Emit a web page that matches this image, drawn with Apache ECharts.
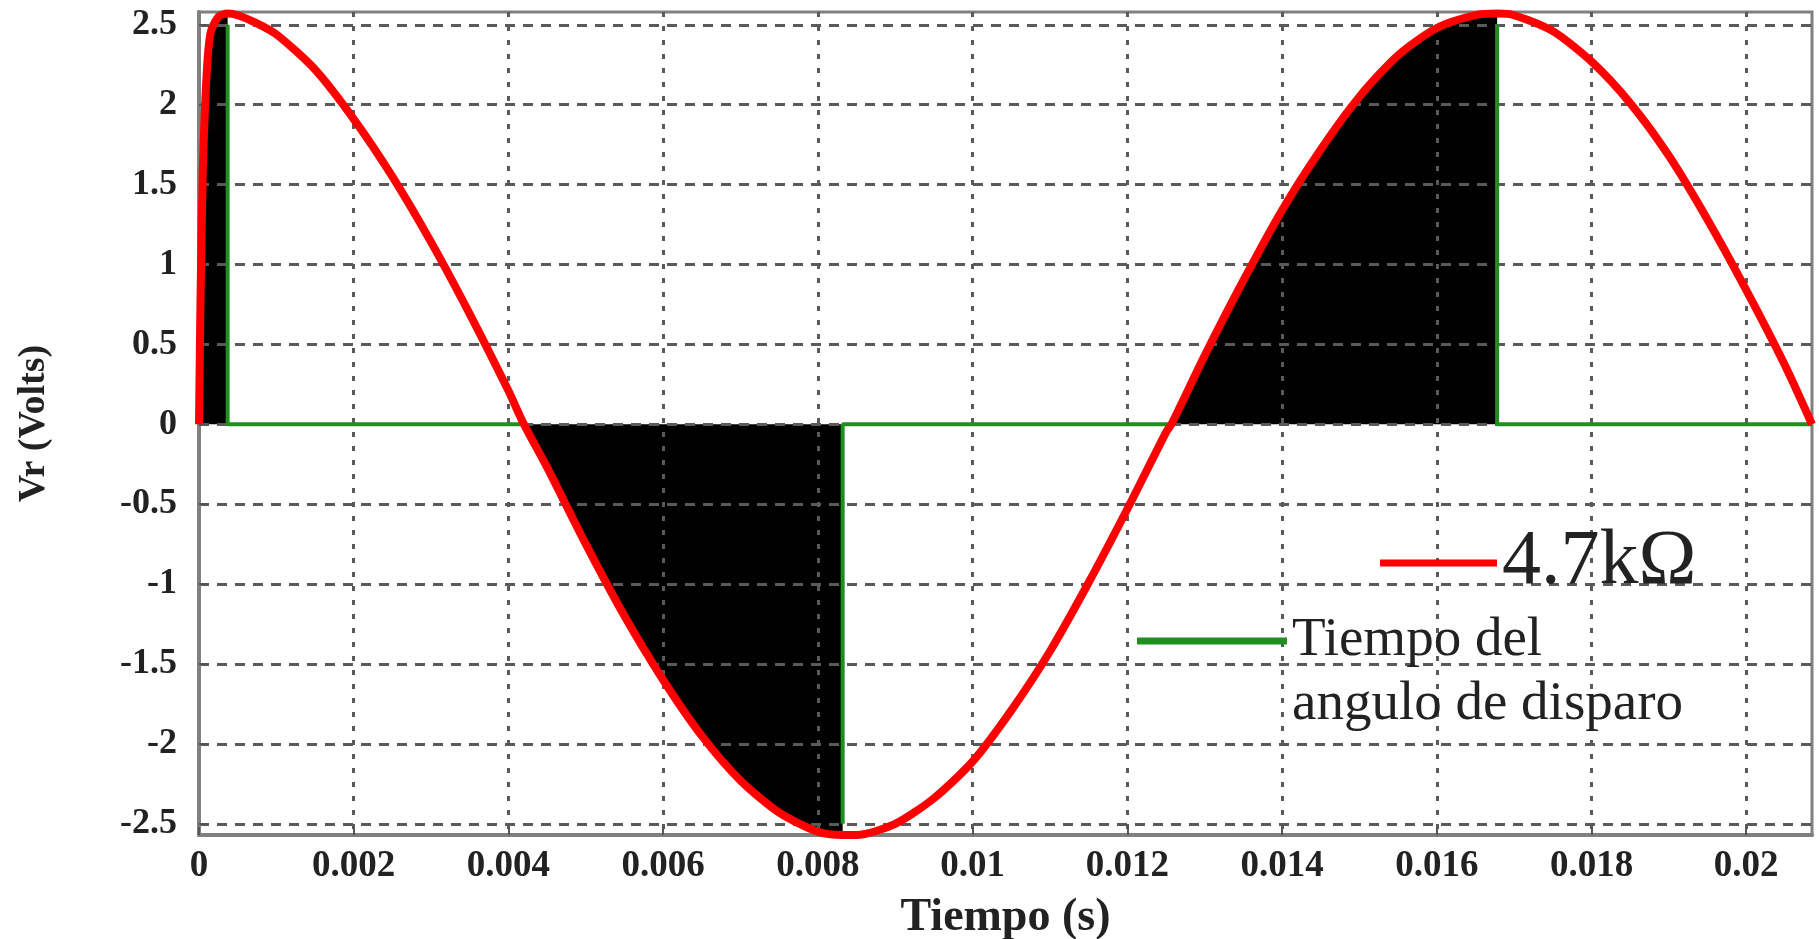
<!DOCTYPE html>
<html><head><meta charset="utf-8">
<script src="https://cdn.jsdelivr.net/npm/echarts@6/dist/echarts.min.js"></script>
<style>html,body{margin:0;padding:0;background:#fff;}#c{width:1819px;height:939px;}</style>
</head><body><div id="c"></div>
<script>
// Tiempo (s) and Vr (Volts)
const tiempo = [0, 0.00002, 0.00005, 0.0001, 0.00015, 0.00025, 0.00037, 0.0005, 0.0007, 0.001, 0.0015,
  0.002, 0.0025, 0.003, 0.0035, 0.004, 0.0042, 0.0045, 0.005, 0.0055, 0.006,
  0.0065, 0.007, 0.0075, 0.008, 0.00832, 0.0085, 0.009, 0.0095, 0.01, 0.0105,
  0.011, 0.0115, 0.012, 0.0125, 0.01257, 0.013, 0.0135, 0.014, 0.0145, 0.015,
  0.0155, 0.016, 0.0165, 0.01678, 0.017, 0.0175, 0.018, 0.0185, 0.019, 0.0195,
  0.02, 0.0205, 0.02085];
const vr = [0, 0.8, 1.6, 2.2, 2.45, 2.55, 2.57, 2.56, 2.52, 2.44, 2.22,
  1.91, 1.55, 1.14, 0.69, 0.21, 0, -0.27, -0.75, -1.2, -1.6,
  -1.95, -2.23, -2.43, -2.55, -2.57, -2.57, -2.5, -2.34, -2.11, -1.79,
  -1.42, -0.99, -0.53, -0.05, 0, 0.43, 0.9, 1.34, 1.72, 2.05,
  2.31, 2.48, 2.56, 2.57, 2.56, 2.46, 2.27, 2.01, 1.68, 1.28,
  0.84, 0.37, 0];
// conduction intervals (start) and firing instants (end) with marker level
const conduccionInicio = [0, 0.0042, 0.01257];
const disparo = [0.00037, 0.00832, 0.01678];
const disparoNivel = [2.5, -2.5, 2.5];
const tiempoFin = 0.02085;

const xTicks = [0, 0.002, 0.004, 0.006, 0.008, 0.01, 0.012, 0.014, 0.016, 0.018, 0.02];
const xTickLabels = ['0', '0.002', '0.004', '0.006', '0.008', '0.01', '0.012', '0.014', '0.016', '0.018', '0.02'];
const yTicks = [-2.5, -2, -1.5, -1, -0.5, 0, 0.5, 1, 1.5, 2, 2.5];
const yTickLabels = ['-2.5', '-2', '-1.5', '-1', '-0.5', '0', '0.5', '1', '1.5', '2', '2.5'];

const serieRoja = '4.7k\u03A9';
const serieVerde = 'Tiempo del\nangulo de disparo';
const ejeX = 'Tiempo (s)';
const ejeY = 'Vr (Volts)';

const FONT = "'Liberation Serif', 'Times New Roman', serif";

const redData = tiempo.map((t, i) => [t, vr[i]]);
const fillData = tiempo.map((t, i) => {
  let inside = false;
  for (let k = 0; k < disparo.length; k++) {
    if (t >= conduccionInicio[k] - 1e-12 && t <= disparo[k] + 1e-12) inside = true;
  }
  return inside ? [t, vr[i]] : [t, '-'];
});
const greenData = [];
for (let k = 0; k < disparo.length; k++) {
  const next = k + 1 < conduccionInicio.length ? conduccionInicio[k + 1] : tiempoFin;
  greenData.push([disparo[k], disparoNivel[k]], [disparo[k], 0], [next, 0], ['-', '-']);
}

function lab(ticks, labels) {
  return v => {
    const i = ticks.findIndex(t => Math.abs(t - v) < 1e-9);
    return i >= 0 ? labels[i] : '';
  };
}

const chart = echarts.init(document.getElementById('c'));
chart.setOption({
  animation: false,
  backgroundColor: '#fff',
  grid: { left: 199, right: 7, top: 12, bottom: 104, show: true, borderColor: '#808080', borderWidth: 3,
    backgroundColor: 'transparent', outerBoundsMode: 'none', containLabel: false },
  legend: [
    {
      data: [serieRoja], left: 1380, top: 524, padding: 0, icon: 'rect', itemWidth: 117, itemHeight: 7,
      selectedMode: false,
      textStyle: { fontFamily: FONT, fontSize: 78, color: '#222' }
    },
    {
      data: [serieVerde], left: 1137, top: 545, padding: 0, icon: 'rect', itemWidth: 150, itemHeight: 7,
      selectedMode: false,
      formatter: name => ' \n' + name,
      textStyle: { fontFamily: FONT, fontSize: 55, lineHeight: 64, color: '#222' }
    }
  ],
  xAxis: {
    type: 'value', min: 0, max: tiempoFin, z: 3,
    name: ejeX, nameLocation: 'middle', nameGap: 60,
    nameTextStyle: { fontFamily: FONT, fontWeight: 'bold', fontSize: 46, color: '#222' },
    axisLine: { show: true, onZero: false, lineStyle: { color: '#808080', width: 4 } },
    axisTick: { show: true, inside: true, length: 8, customValues: xTicks, lineStyle: { color: '#555', width: 2 } },
    axisLabel: { customValues: xTicks, margin: 13, fontFamily: FONT, fontWeight: 'bold', fontSize: 37, color: '#222', formatter: lab(xTicks, xTickLabels) },
    splitLine: { show: true, lineStyle: { color: '#5a5a5a', width: 3, type: [5, 9] } }
  },
  yAxis: {
    type: 'value', min: -2.57, max: 2.58, z: 3,
    name: ejeY, nameLocation: 'middle', nameGap: 146, nameRotate: 90,
    nameTextStyle: { fontFamily: FONT, fontWeight: 'bold', fontSize: 38, color: '#222' },
    axisLine: { show: true, onZero: false, lineStyle: { color: '#808080', width: 4 } },
    axisTick: { show: true, inside: true, length: 8, customValues: yTicks, lineStyle: { color: '#555', width: 2 } },
    axisLabel: { customValues: yTicks, margin: 22, fontFamily: FONT, fontWeight: 'bold', fontSize: 36, color: '#222', formatter: lab(yTicks, yTickLabels) },
    splitLine: { show: true, lineStyle: { color: '#5a5a5a', width: 3, type: [10, 8] } }
  },
  series: [
    {
      name: 'relleno', type: 'line', data: fillData, symbol: 'none', connectNulls: false,
      smooth: 0.25,
      lineStyle: { width: 0 }, areaStyle: { color: '#000', opacity: 1 }, z: 2, silent: true
    },
    {
      name: serieVerde, type: 'line', data: greenData, symbol: 'none', connectNulls: false,
      itemStyle: { color: '#1f8f1f' }, lineStyle: { color: '#1f8f1f', width: 4 }, z: 4
    },
    {
      name: serieRoja, type: 'line', data: redData, symbol: 'none', smooth: 0.25,
      itemStyle: { color: '#ff0000' }, lineStyle: { color: '#ff0000', width: 8 }, z: 5
    }
  ]
});
</script></body></html>
